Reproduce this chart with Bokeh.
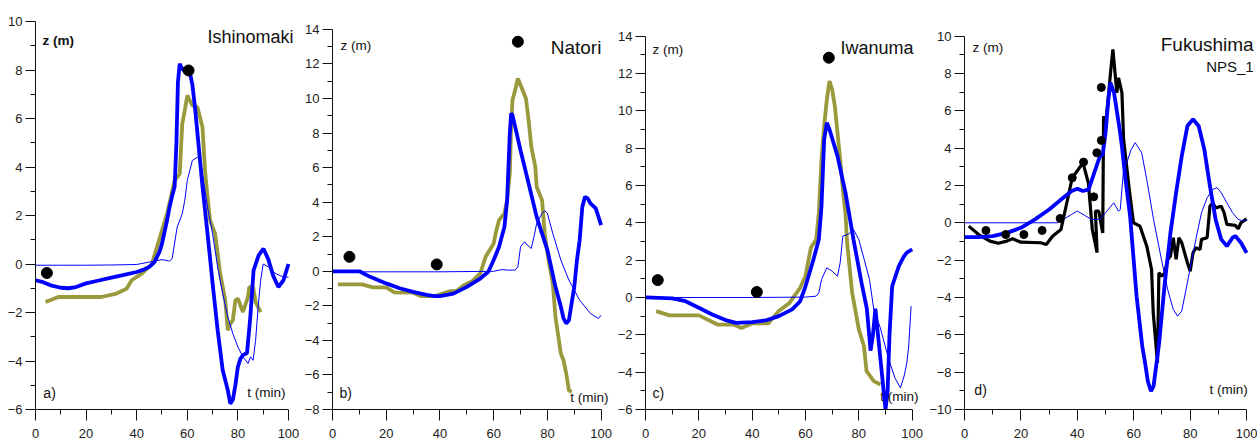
from bokeh.plotting import figure
from bokeh.models import Range1d, FixedTicker, Label
from bokeh.layouts import row
from bokeh.embed import file_html
from bokeh.resources import INLINE

# ---------------- data ----------------
# Panel a) Ishinomaki
a_sim_t = [0, 3, 6, 10, 13, 16, 20, 25, 30, 35, 40, 43, 45, 47, 49, 50, 52, 53, 54, 55, 55.7, 56.3, 57, 57.7, 58.5, 60, 61, 62, 63, 64, 65, 66, 68, 70, 72, 74, 76, 77, 78, 79, 80, 81, 82, 83.6, 84.9, 86.2, 88.2, 90.1, 92, 94, 96, 98, 100]
a_sim_z = [-0.67, -0.75, -0.88, -0.98, -1.0, -0.95, -0.8, -0.68, -0.56, -0.45, -0.33, -0.22, -0.12, 0.08, 0.5, 0.84, 1.8, 2.35, 2.8, 3.2, 5.0, 7.5, 8.26, 8.1, 8.0, 7.98, 7.9, 7.4, 6.5, 5.4, 4.3, 3.2, 1.25, -0.8, -2.73, -4.38, -5.2, -5.76, -5.6, -5.0, -4.24, -3.9, -3.76, -3.67, -2.2, -0.26, 0.36, 0.63, 0.2, -0.5, -0.95, -0.67, 0.0]
a_obs_t = [4, 9, 20, 26, 32, 36, 38, 42, 46, 48, 52, 55, 57, 58, 59, 60, 62, 64, 66, 67, 68, 69, 71, 73, 75, 76, 77, 78, 79, 80, 82, 84, 84.5, 86, 87, 89]
a_obs_z = [-1.57, -1.36, -1.36, -1.36, -1.22, -1.02, -0.67, -0.4, 0.0, 0.7, 2.07, 3.45, 3.72, 5.78, 6.33, 6.95, 6.54, 6.47, 5.65, 3.86, 2.76, 1.8, 1.25, -0.4, -1.5, -2.73, -2.46, -2.32, -1.5, -1.43, -1.98, -1.36, -0.95, -0.95, -1.57, -1.98]
a_thin_t = [0, 10, 20, 30, 40, 45, 50, 53, 54, 56, 58, 59, 60, 62, 64, 65, 66, 68, 70, 72, 74, 76, 78, 80, 82, 84, 85, 86, 87, 88, 89, 90, 92, 95, 98, 100]
a_thin_z = [-0.05, -0.05, -0.05, -0.04, -0.02, 0.08, 0.18, 0.12, 0.22, 1.52, 2.07, 2.62, 3.45, 4.27, 4.4, 4.34, 3.72, 2.35, 1.25, -0.12, -1.22, -2.18, -2.87, -3.42, -3.83, -4.1, -3.83, -3.97, -3.15, -1.77, -0.67, 0.0, -0.12, -0.4, -0.54, -0.54]
a_dot_t = [4.5, 60.5]
a_dot_z = [-0.37, 7.98]

# Panel b) Natori
b_sim_t = [0, 10, 14, 20, 25, 30, 35, 38, 40, 45, 50, 55, 58, 60, 62, 64, 65, 66, 66.5, 67, 70, 73, 76, 80, 83, 85, 86, 87, 88, 90, 91, 92, 93, 94, 95, 96, 98, 100]
b_sim_z = [0, 0, -0.32, -0.7, -0.98, -1.19, -1.37, -1.44, -1.44, -1.29, -0.9, -0.42, -0.03, 0.65, 1.42, 2.58, 4.1, 7.98, 9.14, 9.04, 7.0, 5.08, 3.15, 1.23, -0.9, -2.05, -2.73, -3.02, -2.83, -0.9, 0.65, 1.8, 3.74, 4.31, 4.22, 3.93, 3.64, 2.67]
b_obs_t = [2, 11, 15, 20, 23, 30, 33, 38, 44, 46, 49, 52, 55, 57, 60, 61, 62, 64, 65, 66, 66.5, 67, 68, 69, 70, 72, 73, 74, 75.5, 76, 78, 79, 80, 82, 83, 85, 86, 87, 88, 89]
b_obs_z = [-0.76, -0.76, -0.93, -0.93, -1.22, -1.24, -1.44, -1.44, -1.15, -1.15, -0.8, -0.57, -0.12, 0.84, 1.61, 2.38, 2.96, 3.35, 4.12, 5.66, 8.37, 9.91, 10.49, 11.17, 10.78, 10.0, 8.75, 7.21, 6.05, 4.89, 4.12, 2.19, 1.03, -0.71, -2.64, -4.76, -5.15, -5.92, -6.89, -6.98]
b_thin_t = [0, 20, 40, 60, 63, 65, 68, 69, 70, 71.5, 72.5, 74, 75, 76, 78, 79, 80, 82, 85, 88, 92, 96, 99, 100]
b_thin_z = [-0.03, -0.03, -0.03, 0.0, 0.1, 0.07, 0.07, 0.26, 1.42, 1.71, 1.52, 1.32, 2.0, 2.77, 3.35, 3.5, 3.35, 2.19, 0.65, -0.51, -1.67, -2.44, -2.73, -2.54]
b_dot_t = [6.3, 38.8, 69.0]
b_dot_z = [0.84, 0.40, 13.29]

# Panel c) Iwanuma
c_sim_t = [0, 10, 15, 20, 25, 30, 34, 40, 45, 50, 55, 58, 60, 63, 65, 66, 67, 68, 69, 72, 75, 78, 81, 83, 84.4, 85.3, 86.2, 88.1, 90, 90.8, 91.5, 92.5, 95, 96.9, 98, 100]
c_sim_z = [0, -0.05, -0.2, -0.55, -0.91, -1.21, -1.36, -1.32, -1.23, -1.0, -0.64, -0.2, 0.6, 2.04, 3.1, 4.9, 8.46, 9.36, 9.0, 7.57, 5.6, 3.1, 0.79, -0.6, -2.85, -2.0, -0.6, -3.3, -6.0, -5.0, -2.0, 0.6, 1.68, 2.2, 2.4, 2.57]
c_obs_t = [4, 9, 20, 27, 33, 36, 40, 46, 50, 54, 58, 60, 62, 64, 65, 66, 67, 68, 69, 70, 71, 72, 73, 74, 75, 75.6, 77.5, 80, 81.9, 82.9, 85.6, 88.1]
c_obs_z = [-0.73, -0.96, -0.96, -1.45, -1.45, -1.63, -1.39, -1.39, -0.73, -0.29, 0.52, 1.14, 2.66, 3.1, 4.54, 7.39, 9.18, 10.6, 11.59, 11.14, 10.25, 8.82, 7.39, 5.8, 4.5, 2.93, 0.25, -1.71, -2.6, -3.95, -4.48, -4.66]
c_thin_t = [0, 20, 40, 60, 64, 65, 66, 68, 70, 72, 73, 74, 76, 78, 80, 82, 84, 85.6, 88, 91.2, 93.5, 95.6, 97, 98, 98.7, 99.6]
c_thin_z = [0, 0, 0, 0.02, 0.07, 0.25, 0.96, 1.59, 1.41, 1.14, 1.86, 3.29, 3.38, 3.64, 3.1, 2.04, 0.96, -0.64, -1.6, -3.3, -4.3, -4.84, -4.2, -3.5, -2.6, -0.47]
c_dot_t = [4.6, 41.75, 68.75]
c_dot_z = [0.93, 0.29, 12.84]

# Panel d) Fukushima NPS_1
d_sim_t = [0, 5, 10, 15, 20, 25, 30, 35, 38, 40, 42, 44, 46, 48, 49, 50, 51, 51.7, 53, 55, 55.8, 57, 58.7, 61, 63, 64, 65, 66.1, 67, 69, 71, 73, 75, 77, 79, 81, 83, 85, 87, 89, 91, 93, 95, 96, 98, 100]
d_sim_z = [-0.77, -0.77, -0.71, -0.54, -0.27, 0.18, 0.71, 1.34, 1.7, 1.82, 1.7, 1.79, 2.68, 3.57, 3.66, 4.82, 6.61, 7.5, 6.96, 5.0, 4.1, 2.4, 0.35, -3.93, -6.6, -7.5, -8.5, -9.02, -8.75, -6.43, -3.21, -0.54, 1.61, 3.57, 5.18, 5.54, 5.18, 3.93, 1.96, 0.18, -0.89, -1.25, -0.8, -0.71, -1.07, -1.61]
d_obs_t = [1.5, 5, 9, 12, 15, 17, 20, 27, 29, 31.2, 34.2, 38.2, 42, 43.9, 45.3, 47, 46.4, 47.6, 49, 49.3, 50, 51, 52, 52.6, 54.0, 54.6, 55.8, 56.4, 58.4, 59.9, 62.2, 64.6, 66.3, 66.9, 68.4, 68.9, 70, 71, 72, 73, 74, 75, 76, 77, 79, 80, 81, 82, 83.5, 84, 86, 87, 88, 89, 91, 92, 93, 96, 97, 98, 100]
d_obs_z = [-0.18, -0.63, -0.98, -1.1, -0.98, -0.86, -1.04, -1.07, -1.16, -0.72, -0.36, 2.41, 3.21, 2.14, -0.36, -1.6, 0.62, 0.62, -0.54, 5.71, 5.2, 6.8, 8.4, 9.28, 6.96, 7.76, 6.96, 4.46, 1.78, 0.0, -0.18, -1.25, -2.5, -4.82, -7.5, -2.68, -2.86, -2.68, -1.96, -1.79, -0.8, -1.96, -0.8, -1.07, -2.14, -2.59, -1.61, -1.34, -1.43, -0.89, -0.8, 0.89, 1.07, 0.8, 0.89, 0.54, -0.09, -0.14, -0.32, 0.0, 0.21]
d_thin_t = [0, 20, 33, 35, 38, 40, 42, 45, 48, 50, 52.9, 54.6, 55.2, 56.4, 57.5, 59, 60.5, 62.8, 64.6, 67, 69.8, 72, 74, 75.5, 77, 79, 82, 84, 86, 88, 89.5, 91, 93, 95, 97, 99, 100]
d_thin_z = [0, 0, 0, 0.18, 0.45, 0.63, 0.45, 0.18, 0.18, 0.54, 1.07, 0.62, 0.71, 2.86, 3.2, 3.9, 4.29, 3.75, 2.32, 0.18, -1.96, -3.57, -4.64, -5.0, -4.73, -3.21, -0.89, 0.54, 1.34, 1.79, 1.88, 1.61, 1.07, 0.54, 0.18, 0.09, 0.18]
d_dot_t = [7.6, 14.6, 21.05, 27.5, 33.9, 38.2, 42.2, 45.8, 46.9, 48.5, 48.5]
d_dot_z = [-0.41, -0.63, -0.63, -0.41, 0.23, 2.41, 3.25, 1.39, 3.75, 4.41, 7.25]

x_major = [0, 20, 40, 60, 80, 100]
x_minor = [10, 30, 50, 70, 90]

BLUE = "#0000ff"
OLIVE = "#9a9a3c"
SANS = "Liberation Sans"


def make_panel(width, bl, xmax, ymin, ymax, ytop):
    p = figure(width=width, height=445, x_range=Range1d(0, xmax), y_range=Range1d(ymin, ytop),
               output_backend="svg", toolbar_location=None,
               min_border_left=bl, min_border_right=1, min_border_top=21, min_border_bottom=36)
    p.outline_line_color = None
    p.xgrid.visible = False
    p.ygrid.visible = False
    p.xaxis.ticker = FixedTicker(ticks=x_major, minor_ticks=x_minor)
    p.yaxis.ticker = FixedTicker(ticks=list(range(ymin, ymax + 1, 2)),
                                 minor_ticks=[v for v in range(ymin, ymax + 1) if v % 2])
    p.xaxis.bounds = (0, 100)
    p.yaxis.bounds = (ymin, ymax)
    for ax in (p.xaxis[0], p.yaxis[0]):
        ax.axis_line_color = "#111111"
        ax.major_tick_line_color = "#111111"
        ax.minor_tick_line_color = "#111111"
        ax.major_tick_in = 0
        ax.minor_tick_in = 0
        ax.minor_tick_out = 5
        ax.major_label_text_font = SANS
        ax.major_label_text_font_size = "13px"
        ax.major_label_text_color = "#222222"
    p.xaxis.major_tick_out = 11
    p.xaxis.major_label_standoff = 8
    p.yaxis.major_tick_out = 10
    p.yaxis.major_label_standoff = 3
    return p


def add_text(p, x, y, text, size, align="left", bold=False):
    p.add_layout(Label(x=x, y=y, text=text, text_font=SANS, text_font_size=size,
                       text_align=align, text_baseline="middle", text_color="#111111",
                       text_font_style="bold" if bold else "normal"))


pa = make_panel(300, 35, 104.35, -6, 10, 10.0)
pb = make_panel(314, 32, 104.6, -8, 14, 14.46)
pc = make_panel(312, 31, 105.0, -6, 14, 14.78)
pd = make_panel(331, 35, 103.5, -10, 10, 10.78)

panels = [
    (pa, a_obs_t, a_obs_z, OLIVE, a_thin_t, a_thin_z, a_sim_t, a_sim_z, a_dot_t, a_dot_z, 11),
    (pb, b_obs_t, b_obs_z, OLIVE, b_thin_t, b_thin_z, b_sim_t, b_sim_z, b_dot_t, b_dot_z, 11),
    (pc, c_obs_t, c_obs_z, OLIVE, c_thin_t, c_thin_z, c_sim_t, c_sim_z, c_dot_t, c_dot_z, 11),
    (pd, d_obs_t, d_obs_z, "#000000", d_thin_t, d_thin_z, d_sim_t, d_sim_z, d_dot_t, d_dot_z, 8),
]
for p, ot, oz, oc, tt, tz, st, sz, dt, dz, ds in panels:
    p.line(ot, oz, line_color=oc, line_width=3.8 if oc == OLIVE else 3.2)
    p.line(tt, tz, line_color=BLUE, line_width=1)
    p.line(st, sz, line_color=BLUE, line_width=3.8)
    p.scatter(dt, dz, size=ds, color="#000000")

# texts
add_text(pa, 2.8, 9.2, "z (m)", "13.5px", bold=True)
add_text(pa, 102, 9.35, "Ishinomaki", "18px", align="right")
add_text(pa, 3.1, -5.34, "a)", "14px")
add_text(pa, 98.8, -5.3, "t (min)", "13.5px", align="right")

add_text(pb, 3.0, 13.08, "z (m)", "13.5px")
add_text(pb, 100.1, 12.98, "Natori", "19px", align="right")
add_text(pb, 2.6, -7.07, "b)", "14px")
add_text(pb, 102.7, -7.29, "t (min)", "13.5px", align="right")

add_text(pc, 2.6, 13.28, "z (m)", "13.5px")
add_text(pc, 100.5, 13.37, "Iwanuma", "18px", align="right")
add_text(pc, 2.6, -5.09, "c)", "14px")
add_text(pc, 102.4, -5.29, "t (min)", "13.5px", align="right")

add_text(pd, 2.8, 9.37, "z (m)", "13.5px")
add_text(pd, 102.5, 9.55, "Fukushima", "19px", align="right")
add_text(pd, 102.5, 8.39, "NPS_1", "15px", align="right")
add_text(pd, 3.5, -8.93, "d)", "14px")
add_text(pd, 100.4, -8.93, "t (min)", "13.5px", align="right")

layout = row(pa, pb, pc, pd)
open("out.html", "w").write(file_html(layout, INLINE))
